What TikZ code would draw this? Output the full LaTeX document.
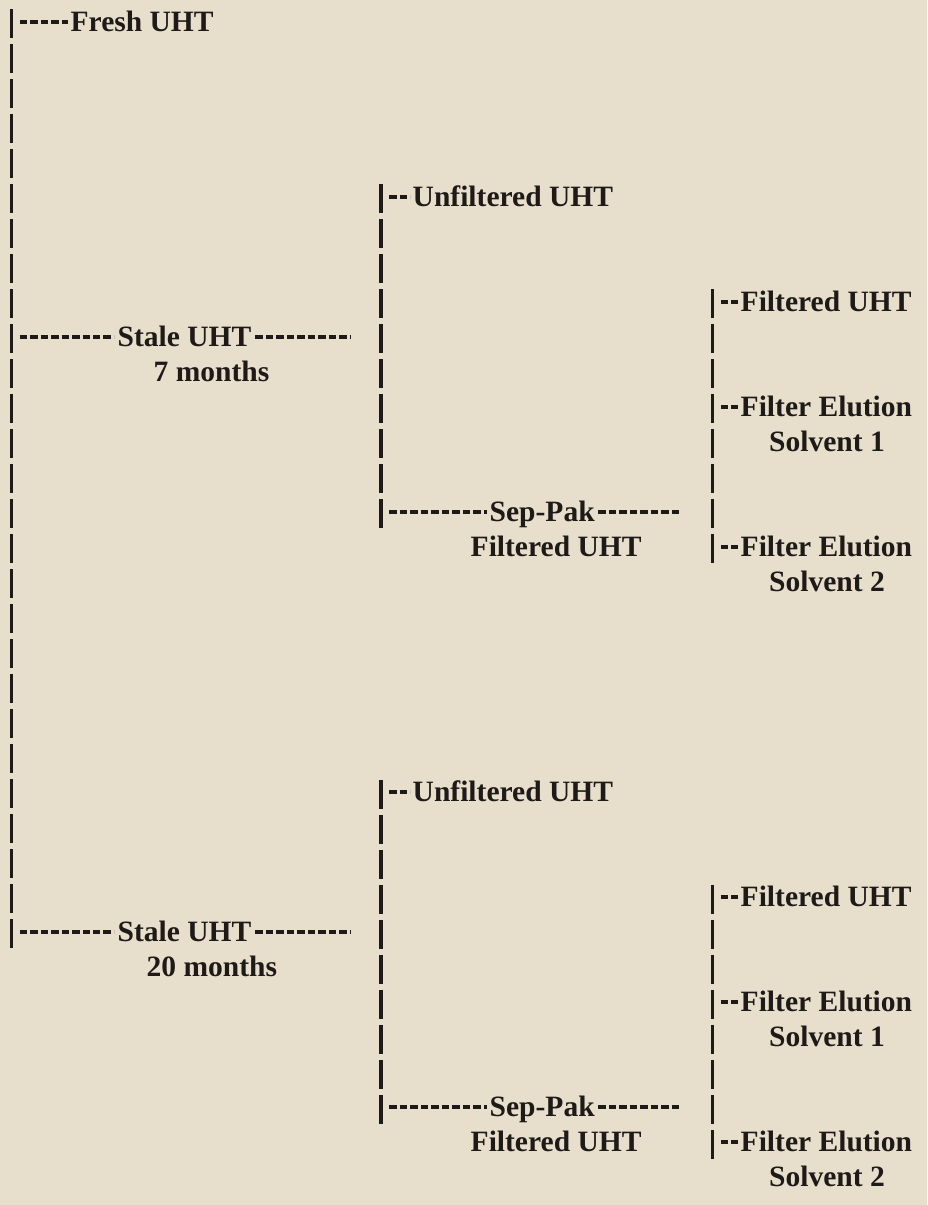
\documentclass[tikz,border=0pt]{standalone}
\usepackage{fontspec}
\setmainfont{Liberation Serif}
\usepackage{xcolor}
\usetikzlibrary{positioning}
\definecolor{paper}{RGB}{231,222,203}
\definecolor{ink}{RGB}{30,26,24}

\begin{document}
\begin{tikzpicture}[
    leaf/.style={
        font=\fontsize{8.4}{10}\selectfont\bfseries,
        text=ink,
        inner sep=0pt
    },
    trunk/.style={draw=ink, line width=0.9pt,
        dash pattern=on 0.29cm off 0.06cm,
        shorten <=-0.125cm, shorten >=-0.165cm},
    hyph/.style={draw=ink, line width=0.9pt,
        dash pattern=on 0.075cm off 0.03cm}
]

% Page
\fill[paper] (0,0) rectangle (9.27,-12.05);
\useasboundingbox (0,0) rectangle (9.27,-12.05);

% Junctions on the bars
\coordinate (a0) at (0.115,-0.22);
\coordinate (a9) at (0.115,-3.37);
\coordinate (a26) at (0.115,-9.32);
\coordinate (b5) at (3.81,-1.97);
\coordinate (b14) at (3.81,-5.12);
\coordinate (b22) at (3.81,-7.92);
\coordinate (b31) at (3.81,-11.07);
\coordinate (c8) at (7.125,-3.02);
\coordinate (c11) at (7.125,-4.07);
\coordinate (c15) at (7.125,-5.47);
\coordinate (c25) at (7.125,-8.97);
\coordinate (c28) at (7.125,-10.02);
\coordinate (c32) at (7.125,-11.42);

% Free ends of trailing dashes
\coordinate (e9) at (3.50,-3.37);
\coordinate (e26) at (3.50,-9.32);
\coordinate (e14) at (6.80,-5.12);
\coordinate (e31) at (6.80,-11.07);

% Root
\node[leaf, anchor=base west] (fresh) at (0.70,-0.3175) {Fresh UHT};

% Stale samples
\node[leaf, anchor=base west] (stale1) at (1.17,-3.4675) {Stale UHT};
\node[leaf, anchor=base west] (months1) at (1.53,-3.8175) {7 months};
\node[leaf, anchor=base west] (stale2) at (1.17,-9.4175) {Stale UHT};
\node[leaf, anchor=base west] (months2) at (1.46,-9.7675) {20 months};

% Second level
\node[leaf, anchor=base west] (unf1) at (4.12,-2.0675) {Unfiltered UHT};
\node[leaf, anchor=base west] (sep1) at (4.89,-5.2175) {Sep-Pak};
\node[leaf, anchor=base west] (sepf1) at (4.70,-5.5675) {Filtered UHT};
\node[leaf, anchor=base west] (unf2) at (4.12,-8.0175) {Unfiltered UHT};
\node[leaf, anchor=base west] (sep2) at (4.89,-11.1675) {Sep-Pak};
\node[leaf, anchor=base west] (sepf2) at (4.70,-11.5175) {Filtered UHT};

% Third level
\node[leaf, anchor=base west] (filt1) at (7.40,-3.1175) {Filtered UHT};
\node[leaf, anchor=base west] (elu1) at (7.40,-4.1675) {Filter Elution};
\node[leaf, anchor=base] (sol1) at (8.27,-4.5175) {Solvent 1};
\node[leaf, anchor=base west] (elu2) at (7.40,-5.5675) {Filter Elution};
\node[leaf, anchor=base] (sol2) at (8.27,-5.9175) {Solvent 2};
\node[leaf, anchor=base west] (filt2) at (7.40,-9.0675) {Filtered UHT};
\node[leaf, anchor=base west] (elu3) at (7.40,-10.1175) {Filter Elution};
\node[leaf, anchor=base] (sol3) at (8.27,-10.4675) {Solvent 1};
\node[leaf, anchor=base west] (elu4) at (7.40,-11.5175) {Filter Elution};
\node[leaf, anchor=base] (sol4) at (8.27,-11.8675) {Solvent 2};

% Bars
\draw[trunk] (a0) -- (a26);
\draw[trunk] (b5) -- (b14);
\draw[trunk] (b22) -- (b31);
\draw[trunk] (c8) -- (c15);
\draw[trunk] (c25) -- (c32);

% Dashes into the labels
\draw[hyph, shorten <=0.08cm, shorten >=0.02cm] (a0) -- (a0 -| fresh.west);
\draw[hyph, shorten <=0.08cm, shorten >=0.03cm] (a9) -- (a9 -| stale1.west);
\draw[hyph, shorten <=0.08cm, shorten >=0.03cm] (a26) -- (a26 -| stale2.west);
\draw[hyph, shorten <=0.08cm, shorten >=0.02cm] (b5) -- (b5 -| unf1.west);
\draw[hyph, shorten <=0.08cm, shorten >=0.02cm] (b14) -- (b14 -| sep1.west);
\draw[hyph, shorten <=0.08cm, shorten >=0.02cm] (b22) -- (b22 -| unf2.west);
\draw[hyph, shorten <=0.08cm, shorten >=0.02cm] (b31) -- (b31 -| sep2.west);
\draw[hyph, shorten <=0.08cm, shorten >=0.02cm] (c8) -- (c8 -| filt1.west);
\draw[hyph, shorten <=0.08cm, shorten >=0.02cm] (c11) -- (c11 -| elu1.west);
\draw[hyph, shorten <=0.08cm, shorten >=0.02cm] (c15) -- (c15 -| elu2.west);
\draw[hyph, shorten <=0.08cm, shorten >=0.02cm] (c25) -- (c25 -| filt2.west);
\draw[hyph, shorten <=0.08cm, shorten >=0.02cm] (c28) -- (c28 -| elu3.west);
\draw[hyph, shorten <=0.08cm, shorten >=0.02cm] (c32) -- (c32 -| elu4.west);

% Trailing dashes
\draw[hyph, shorten <=0.03cm] (e9 -| stale1.east) -- (e9);
\draw[hyph, shorten <=0.03cm] (e26 -| stale2.east) -- (e26);
\draw[hyph, shorten <=0.03cm] (e14 -| sep1.east) -- (e14);
\draw[hyph, shorten <=0.03cm] (e31 -| sep2.east) -- (e31);

\end{tikzpicture}
\end{document}
